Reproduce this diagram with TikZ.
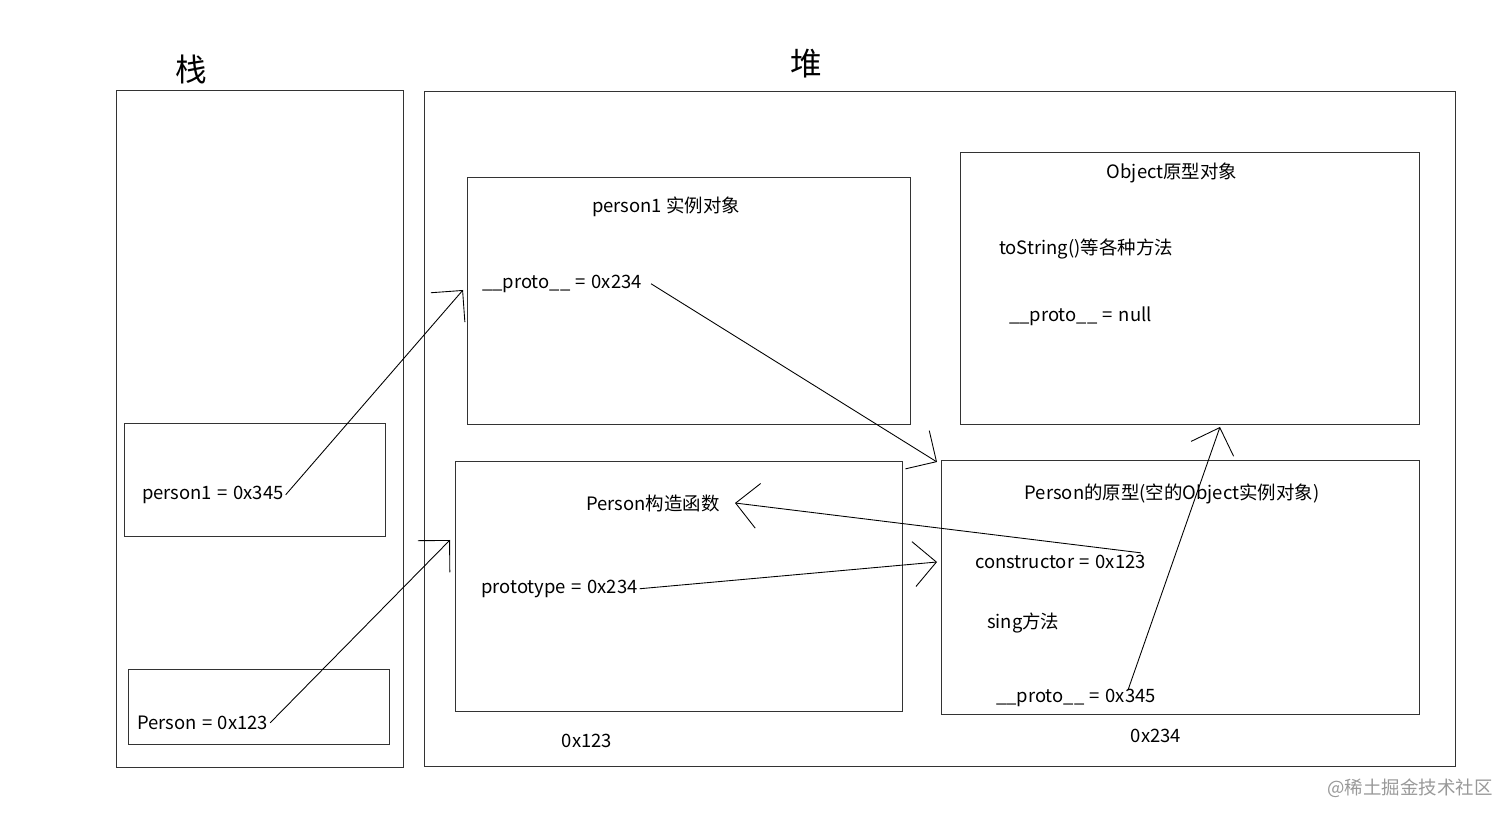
\documentclass[tikz,border=0pt]{standalone}
\usepackage{fontspec}
\setmainfont{Noto Sans CJK SC}
\usetikzlibrary{arrows.meta}
\newcommand{\eqs}{\hspace{0.3em}=\hspace{0.3em}}
\tikzset{
  box/.style={draw=black!80, line width=0.6pt, anchor=north west, inner sep=0pt},
  txt/.style={anchor=west, inner sep=1pt, yshift=-1pt, font=\fontsize{10.5}{12}\selectfont},
  ttl/.style={inner sep=1pt, yshift=-1pt, font=\fontsize{10.5}{12}\selectfont},
  ptr/.style={-{Straight Barb[length=4.5mm,width=9mm]}, line width=0.5pt},
}
\begin{document}
\begin{tikzpicture}[x=0.02cm,y=-0.02cm]
  \useasboundingbox (0,0) rectangle (1512,820);

  % stack
  \node[font=\fontsize{18}{20}\selectfont] (stk) at (191,69) {栈};
  \node[box, minimum width=5.74cm, minimum height=13.54cm] (stack) at (116,90) {};
  \node[box, minimum width=5.22cm, minimum height=2.26cm] (b1) at (124,423) {};
  \node[box, minimum width=5.22cm, minimum height=1.5cm] (b2) at (128,669) {};
  \node[txt] (v1) at (140,493) {person1\eqs 0x345};
  \node[txt] (v2) at (135,721) {Person\eqs 0x123};

  % heap
  \node[font=\fontsize{18}{20}\selectfont] (hp) at (806,64) {堆};
  \node[box, minimum width=20.62cm, minimum height=13.5cm] (heap) at (424,91) {};

  \node[box, minimum width=8.86cm, minimum height=4.94cm] (inst) at (467,177) {};
  \node[ttl] (ititle) at (666,205) {person1 实例对象};
  \node[txt] (iproto) at (480,282) {\_\_proto\_\_\eqs 0x234};

  \node[box, minimum width=8.94cm, minimum height=5cm] (ctor) at (455,461) {};
  \node[ttl] (ctitle) at (653,502) {Person构造函数};
  \node[txt] (cproto) at (479,587) {prototype\eqs 0x234};
  \node[ttl] (caddr) at (587,739) {0x123};

  \node[box, minimum width=9.18cm, minimum height=5.44cm] (obj) at (960,152) {};
  \node[ttl] (otitle) at (1172,171) {Object原型对象};
  \node[txt] (ostr) at (997,247) {toString()等各种方法};
  \node[txt] (oproto) at (1007,315) {\_\_proto\_\_\eqs null};

  \node[box, minimum width=9.56cm, minimum height=5.08cm] (pp) at (941,460) {};
  \node[ttl] (ptitle) at (1172,492) {Person的原型(空的Object实例对象)};
  \node[txt] (pcons) at (973,560) {constructor\eqs 0x123};
  \node[txt] (psing) at (985,621) {sing方法};
  \node[txt] (pproto) at (994,696) {\_\_proto\_\_\eqs 0x345};
  \node[ttl] (paddr) at (1156,734) {0x234};

  \node[ttl, text=black!40] (wm) at (1410,787) {@稀土掘金技术社区};

  % arrow tips
  \coordinate (t1) at (463,290);
  \coordinate (t2) at (450,540);
  \coordinate (t3) at (937,462);
  \coordinate (t4) at (735,503);
  \coordinate (t5) at (937,562);
  \coordinate (t6) at (1220,427);
  \coordinate (s6) at (1128,690);

  \draw[ptr] (v1.east) -- (t1);
  \draw[ptr] (v2.east) -- (t2);
  \draw[ptr] ([xshift=4pt]iproto.east) -- (t3);
  \draw[ptr] ([xshift=-4pt]pcons.north east) -- (t4);
  \draw[ptr] (cproto.east) -- (t5);
  \draw[ptr] (s6) -- (t6);
\end{tikzpicture}
\end{document}
